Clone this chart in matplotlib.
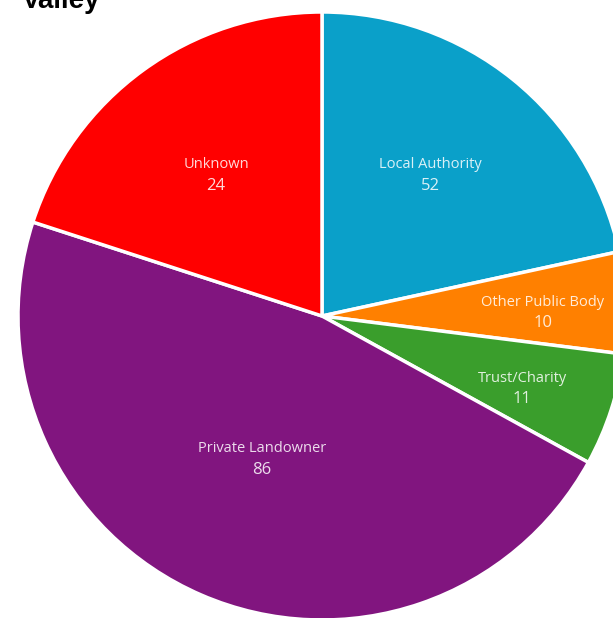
import matplotlib.pyplot as plt

# labels and the counts printed on each wedge
owners = ['Local Authority', 'Other Public Body', 'Trust/Charity', 'Private Landowner', 'Unknown']
counts = [52, 10, 11, 86, 24]
# wedge sizes as drawn in the picture (percent of the circle)
shares = [21.6, 5.4, 6.0, 47.0, 20.0]
colors = ['#0AA0C9', '#FF8000', '#3A9E2C', '#81157F', '#FF0000']

# label anchor points (pixel coords from top-left)
label_xy = [(430, 165), (543, 302), (522, 378), (262, 449), (216, 165)]

W, H = 613, 618
fig = plt.figure(figsize=(W / 100, H / 100), dpi=100)
ax = fig.add_axes([0, 0, 1, 1])

ax.pie(shares, colors=colors, startangle=90, counterclock=False,
       center=(322, H - 316), radius=304, frame=True,
       wedgeprops=dict(edgecolor='white', linewidth=2.5))
ax.set_xlim(0, W)
ax.set_ylim(0, H)
ax.set_aspect('equal')
ax.axis('off')

for name, n, (x, y) in zip(owners, counts, label_xy):
    ax.text(x, H - y, name, ha='center', va='center',
            color='white', alpha=0.85, fontsize=10.5, family='Open Sans')
    ax.text(x, H - y - 21, str(n), ha='center', va='center',
            color='white', alpha=0.85, fontsize=12, family='Open Sans')

ax.text(22, H - 8, 'Valley', ha='left', va='baseline', fontsize=20,
        fontweight='bold', family='Liberation Sans', color='black')

fig.savefig('out.png', dpi=100)
